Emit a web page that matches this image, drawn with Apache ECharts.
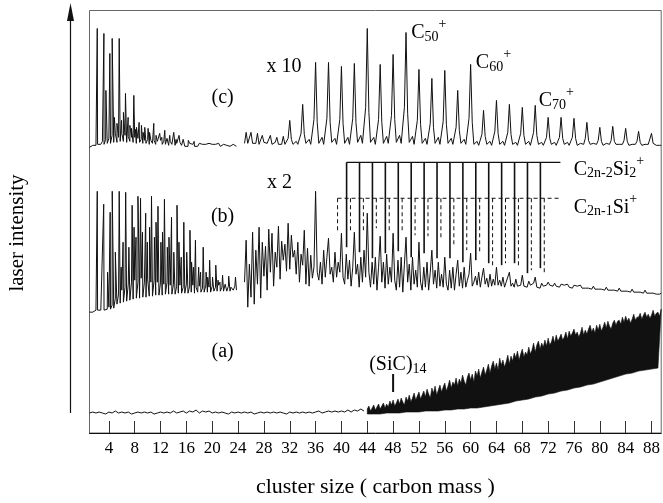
<!DOCTYPE html>
<html>
<head>
<meta charset="utf-8">
<script src="https://cdn.jsdelivr.net/npm/echarts@6/dist/echarts.min.js"></script>
<style>
  html, body { margin: 0; padding: 0; background: #fff; }
  #chart { width: 663px; height: 503px; }
</style>
</head>
<body>
<div id="chart"></div>
<script>
const FONT = '"Liberation Serif", "Times New Roman", serif';
const INK = "#111";

const tickLabels = [4, 8, 12, 16, 20, 24, 28, 32, 36, 40, 44, 48, 52, 56, 60, 64, 68, 72, 76, 80, 84, 88];

// offsets of the three stacked spectra on the (hidden) intensity axis
const baseA = 20, baseB = 121, baseC = 286;

// (c) low mass: noise floor every 0.25 from x=1, plus sharp peaks [x, height]
const cNoise = [
  0, 1, 2, 3,  2, 3, 5, 3,  6, 3, 8, 4,  9, 4, 12, 5,  14, 5, 10, 6,
  14, 6, 12, 5,  11, 6, 10, 5,  10, 4, 9, 5,  8, 4, 7, 4,  8, 3, 7, 4,
  7, 3, 6, 4,  7, 3, 6, 3,  5, 2, 6, 3,  5, 2, 4, 2,  5, 2, 4, 1,
  3, 1, 4, 2,  3, 1, 3, 1,  4, 2, 3, 1,  3, 1, 4, 2,  3, 1, 3, 2,
  4, 1, 2, 3,  1, 2, 4, 1,  2, 3, 1, 1
];
const cPeaks = [
  [2.2, 119], [3.23, 114], [3.54, 57], [4.15, 94], [4.51, 109], [4.85, 30], [5.25, 24],
  [5.6, 109], [5.96, 27], [6.25, 35], [6.57, 54], [6.98, 30], [7.25, 22], [7.5, 19],
  [7.86, 52], [8.1, 18], [8.27, 20], [8.68, 25], [9.04, 22], [9.3, 15], [9.56, 20],
  [10.07, 19], [10.3, 15], [10.48, 16], [10.95, 24], [11.3, 12], [11.87, 14], [12.2, 10],
  [12.65, 17], [13.0, 9], [13.42, 12], [14.04, 15], [14.4, 8], [14.86, 12], [15.5, 8],
  [16.3, 7], [17.2, 6], [18.1, 6], [19.0, 5]
];
// (c) x10 part, every 0.25 from x=25
const cHigh = [
  4, 15, 4, 3,  15, 4, 3, 4,  14, 3, 2, 12,  5, 3, 4, 4,  12, 3, 2, 5,
  10, 3, 4, 3,  11, 3, 4, 9,  27, 8, 3, 2,  6, 3, 4, 14,  43, 13, 4, 2,
  8, 3, 5, 28,  85, 25, 4, 2,  10, 3, 5, 29,  85, 25, 5, 3,  9, 3, 5, 28,
  81, 24, 4, 3,  10, 3, 5, 29,  84, 25, 5, 3,  12, 4, 5, 40,  119, 35, 5, 3,
  10, 3, 5, 28,  83, 25, 4, 3,  11, 4, 5, 32,  93, 28, 5, 3,  12, 4, 5, 40,
  115, 34, 5, 3,  11, 3, 5, 27,  78, 23, 4, 2,  9, 3, 5, 24,  69, 20, 4, 3,
  10, 3, 5, 26,  77, 23, 4, 2,  9, 3, 5, 20,  57, 17, 4, 3,  8, 3, 5, 29,
  83, 25, 3, 2,  6, 2, 4, 13,  37, 11, 3, 2,  6, 2, 4, 16,  47, 14, 3, 2,
  6, 2, 4, 15,  43, 13, 3, 2,  5, 2, 4, 14,  40, 12, 3, 2,  6, 2, 4, 15,
  42, 12, 3, 2,  5, 2, 4, 10,  30, 9, 3, 2,  5, 2, 4, 10,  30, 9, 3, 2,
  5, 2, 4, 10,  29, 9, 2, 2,  4, 2, 3, 9,  25, 7, 3, 2,  4, 2, 3, 7,
  20, 6, 2, 2,  4, 2, 3, 7,  21, 6, 3, 2,  3, 1, 3, 7,  19, 6, 2, 2,
  3, 2, 3, 6,  16, 5, 2, 2,  3, 1, 3, 5,  14, 4, 2, 2,  3, 2, 2
];

// (b) low mass: floor every 0.25 from x=1, plus peaks
const bNoise = [
  0, 1, 0, 1,  2, 2, 3, 2,  3, 2, 4, 3,  5, 3, 7, 4,  14, 8, 18, 9,
  22, 10, 25, 11,  28, 12, 30, 13,  32, 14, 30, 14,  34, 15, 30, 15,  33, 16, 30, 16,
  32, 17, 30, 17,  30, 17, 28, 18,  30, 18, 27, 18,  28, 18, 26, 19,  27, 19, 25, 19,
  28, 19, 26, 20,  27, 19, 25, 20,  26, 20, 24, 20,  27, 20, 25, 20,  26, 21, 25, 21,
  27, 21, 25, 21,  28, 21, 26, 21,  27, 22, 26, 22
];
const bPeaks = [
  [2.2, 121], [3.2, 108], [3.8, 40], [4.2, 100], [4.52, 121], [5.0, 60], [5.6, 121], [5.9, 45],
  [6.2, 70], [6.6, 120], [7.1, 65], [7.6, 107], [7.9, 85], [8.2, 75], [8.5, 116], [8.9, 114],
  [9.2, 80], [9.7, 99], [9.95, 70], [10.3, 85], [10.6, 116], [11.05, 75], [11.3, 90], [11.6, 106],
  [12.05, 70], [12.3, 80], [12.6, 113], [13.05, 65], [13.3, 75], [13.7, 95], [14.05, 60], [14.55, 107],
  [14.85, 70], [15.2, 55], [15.6, 90], [16.05, 60], [16.55, 82], [16.8, 50], [17.1, 45], [17.4, 72],
  [17.9, 45], [18.2, 40], [18.6, 65], [19.05, 40], [19.3, 35], [19.6, 52], [20.05, 35], [20.55, 47],
  [20.9, 32], [21.2, 30], [21.6, 37], [22.05, 28], [22.55, 36], [22.9, 25], [23.2, 27], [23.6, 35]
];
// (b) x2 part, every 0.25 from x=25
const bHigh = [
  30, 72, 5, 48,  15, 80, 8, 62,  28, 85, 14, 70,  36, 66, 22, 83,  40, 79, 26, 60,
  45, 86, 33, 71,  52, 68, 41, 89,  43, 77, 55, 62,  38, 70, 30, 58,  47, 82, 28, 64,
  26, 57, 34, 45,  121, 40, 32, 50,  28, 62, 35, 55,  74, 38, 45, 30,  60, 35, 50, 40,
  79, 35, 28, 58,  33, 52, 26, 45,  80, 38, 48, 25,  55, 30, 62, 35,  99, 40, 25, 50,
  28, 55, 22, 45,  76, 30, 50, 24,  58, 28, 45, 30,  79, 32, 22, 52,  25, 55, 20, 48,
  75, 30, 48, 22,  55, 28, 42, 25,  70, 30, 22, 45,  25, 50, 22, 40,  62, 28, 42, 24,
  50, 26, 38, 25,  55, 28, 22, 42,  24, 45, 22, 38,  52, 26, 40, 24,  45, 25, 32, 38,
  59, 26, 30, 36,  27, 40, 25, 35,  44, 28, 34, 25,  38, 26, 33, 27,  45, 27, 32, 26,
  35, 25, 30, 28,  40, 26, 29, 25,  33, 26, 28, 27,  37, 26, 28, 25,  31, 27, 26, 29,
  35, 25, 27, 24,  29, 26, 25, 27,  30, 27, 28, 26,  29, 26, 27, 25,  28, 26, 27, 25,
  28, 25, 27, 24,  27, 25, 26, 24,  27, 24, 26, 24,  26, 24, 25, 23,  26, 23, 25, 23,
  25, 23, 24, 22,  25, 22, 24, 22,  24, 22, 23, 21,  24, 21, 23, 21,  23, 21, 22, 20,
  23, 20, 22, 20,  22, 20, 21, 19,  22, 19, 21, 19,  21, 19, 20, 18,  20, 18, 19
];

// (a) floor every 0.5 from x=1, then the dense band from x=44
const aNoise = [
  0, 1, 0, 1, 0, -1, 1, 0, 2, 0,  1, 0, 1, -1, 0, 1, 0, 1, 0, 1,
  -1, 0, 1, 0, 1, 0, 2, 0, 1, 2,  0, 2, 1, 3, 0, 2, 1, 2, 0, 1,
  0, 1, 0, -1, 1, 0, 1, 0, 1, 0,  1, -1, 0, 1, 0, 1, 0, 1, 0, 1,
  0, -1, 1, 0, 1, 0, 1, 0, 1, 0,  1, 2, 0, 1, 2, 1, 2, 1, 2, 1,
  3, 1, 3, 2, 4, 2
];
const aBandStart = 44;
// upper edge every 0.25
const aTop = [
  4, 7, 2, 5,  8, 3, 6, 9,  4, 7, 10, 5,  9, 6, 12, 8,  13, 7, 10, 14,
  9, 15, 11, 8,  16, 12, 18, 11,  15, 20, 13, 17,  21, 14, 18, 22,  16, 24, 19, 15,
  25, 20, 27, 18,  23, 28, 21, 26,  30, 22, 27, 33,  25, 31, 28, 35,  27, 34, 30, 38,
  32, 28, 36, 40,  33, 39, 31, 42,  37, 44, 35, 41,  46, 38, 43, 49,  40, 47, 52, 44,
  50, 43, 55, 48,  53, 46, 51, 58,  49, 57, 52, 60,  55, 62, 53, 59,  64, 56, 61, 58,
  66, 59, 63, 70,  61, 68, 72, 64,  70, 66, 73, 67,  75, 68, 71, 77,  70, 78, 72, 75,
  79, 73, 76, 81,  74, 82, 77, 80,  84, 78, 81, 76,  80, 86, 78, 83,  79, 84, 88, 81,
  85, 80, 88, 83,  89, 82, 86, 91,  85, 92, 87, 84,  90, 93, 88, 92,  93, 89, 96, 91,
  97, 92, 95, 90,  94, 99, 93, 96,  96, 100, 94, 98,  101, 96, 99, 95,  98, 103, 97, 100,
  101, 97, 104
];
// lower edge every 1
const aBottom = [
  -1, -1, -1, 0, 0, 0, 1, 1, 1, 2,  2, 2, 3, 3, 4, 4, 5, 5, 6, 7,
  8, 9, 10, 12, 13, 14, 16, 17, 19, 20,  22, 23, 25, 26, 28, 29, 31, 33, 35, 37,
  39, 40, 42, 43, 44, 45
];

// cluster combs over (b): positions and where each tick stops (relative to baseB)
const si2Pos = [40.8, 42.8, 44.8, 46.8, 48.8, 50.8, 52.8, 54.8, 56.8, 58.8, 60.8, 62.8, 64.8, 66.8, 68.8, 70.8];
const si2End = [65, 60, 54, 59, 61, 55, 59, 54, 54, 50, 52, 49, 47, 49, 39, 44];
const si1Pos = [39.4, 41.4, 43.4, 45.4, 47.4, 49.4, 51.4, 53.4, 55.4, 57.4, 59.4, 61.4, 63.4, 65.4, 67.4, 69.4, 71.4];
const si1End = [79, 82, 80, 84, 82, 80, 77, 76, 72, 67, 62, 59, 46, 49, 44, 42, 40];
const si2Top = 150, si1Top = 114, combEnd = 73.9;

const sicMarkX = 48;

function stepped(start, step, vals, base) {
  return vals.map(function (v, i) { return [start + i * step, base + v]; });
}
function withPeaks(start, step, vals, peaks, base) {
  const pts = stepped(start, step, vals, base).concat(peaks.map(function (p) { return [p[0], base + p[1]]; }));
  return pts.sort(function (a, b) { return a[0] - b[0]; });
}
function trace(name, data) {
  return {
    name: name, type: "line", data: data, showSymbol: false, symbol: "none",
    lineStyle: { color: INK, width: 1 }, silent: true, z: 3
  };
}
function comb(pos, end, top, dashed) {
  return {
    type: "custom", silent: true, z: 4,
    data: pos.map(function (x, i) { return [x, baseB + end[i]]; }),
    renderItem: function (params, api) {
      const p1 = api.coord([api.value(0), baseB + top]);
      const p2 = api.coord([api.value(0), api.value(1)]);
      return {
        type: "line",
        shape: { x1: p1[0], y1: p1[1], x2: p2[0], y2: p2[1] },
        style: { stroke: INK, lineWidth: dashed ? 1 : 1.6, lineDash: dashed ? [4, 3] : null }
      };
    }
  };
}

const rich = {
  m: { fontFamily: FONT, fontSize: 20, color: "#000" },
  s: { fontFamily: FONT, fontSize: 14, color: "#000", padding: [9, 0, 0, 0] },
  p: { fontFamily: FONT, fontSize: 14, color: "#000", padding: [0, 0, 16, 0] }
};
const notes = [
  { t: "{m|(c)}", v: [21.6, 336], pos: "inside" },
  { t: "{m|(b)}", v: [21.6, 217], pos: "inside" },
  { t: "{m|(a)}", v: [21.6, 81], pos: "inside" },
  { t: "{m|x 10}", v: [31.1, 367], pos: "inside" },
  { t: "{m|x 2}", v: [30.4, 251], pos: "inside" },
  { t: "{m|C}{s|50}{p|+}", v: [50.8, 401], pos: "right" },
  { t: "{m|C}{s|60}{p|+}", v: [60.8, 371], pos: "right" },
  { t: "{m|C}{s|70}{p|+}", v: [70.55, 333], pos: "right" },
  { t: "{m|C}{s|2n-2}{m|Si}{s|2}{p|+}", v: [75.95, 264], pos: "right" },
  { t: "{m|C}{s|2n-1}{m|Si}{p|+}", v: [75.95, 226], pos: "right" },
  { t: "{m|(SiC)}{s|14}", v: [44.3, 68], pos: "right" }
];

const chart = echarts.init(document.getElementById("chart"));
chart.setOption({
  animation: false,
  grid: { left: 89.5, right: 0, top: 10.5, bottom: 69.5, show: true, borderColor: "#666", borderWidth: 1 },
  xAxis: {
    type: "value", min: 1, max: 89.5,
    name: "cluster size ( carbon mass )", nameLocation: "middle", nameGap: 43,
    nameTextStyle: { fontFamily: FONT, fontSize: 22, color: "#000" },
    axisLine: { show: true, lineStyle: { color: INK, width: 1 } },
    axisTick: { show: true, inside: true, length: 12, customValues: tickLabels, lineStyle: { color: "#333" } },
    axisLabel: { customValues: tickLabels, fontFamily: FONT, fontSize: 17, color: "#000", margin: 7 },
    splitLine: { show: false }
  },
  yAxis: { type: "value", min: 0, max: 423, show: false },
  graphic: [
    { type: "line", shape: { x1: 70.5, y1: 413, x2: 70.5, y2: 16 }, style: { stroke: INK, lineWidth: 1.2 } },
    { type: "polygon", shape: { points: [[70.5, 3], [67, 21], [74, 21]] }, style: { fill: INK } },
    {
      type: "text", x: 17, y: 233, rotation: Math.PI / 2,
      style: { text: "laser intensity", fontFamily: FONT, fontSize: 21, fill: "#000", align: "center", verticalAlign: "middle" }
    }
  ],
  series: [
    trace("c-low", withPeaks(1, 0.25, cNoise, cPeaks, baseC)),
    trace("c-high", stepped(25, 0.25, cHigh, baseC)),
    trace("b-low", withPeaks(1, 0.25, bNoise, bPeaks, baseB)),
    trace("b-high", stepped(25, 0.25, bHigh, baseB)),
    trace("a-low", stepped(1, 0.5, aNoise, baseA)),
    {
      name: "a-band", type: "custom", silent: true, z: 3,
      data: [[aBandStart, baseA]],
      renderItem: function (params, api) {
        const pts = [];
        aTop.forEach(function (v, i) { pts.push(api.coord([aBandStart + i * 0.25, baseA + v])); });
        for (let j = aBottom.length - 1; j >= 0; j--) pts.push(api.coord([aBandStart + j, baseA + aBottom[j]]));
        return { type: "polygon", shape: { points: pts }, style: { fill: INK, stroke: INK, lineWidth: 0.6 } };
      }
    },
    comb(si2Pos, si2End, si2Top, false),
    comb(si1Pos, si1End, si1Top, true),
    {
      type: "line", silent: true, symbol: "none", z: 4,
      data: [[si2Pos[0], baseB + si2Top], [combEnd, baseB + si2Top]],
      lineStyle: { color: INK, width: 1.3 }
    },
    {
      type: "line", silent: true, symbol: "none", z: 4,
      data: [[si1Pos[0], baseB + si1Top], [combEnd, baseB + si1Top]],
      lineStyle: { color: INK, width: 1, type: [4, 3] }
    },
    {
      type: "line", silent: true, symbol: "none", z: 4,
      data: [[sicMarkX, baseA + 21], [sicMarkX, baseA + 39]],
      lineStyle: { color: INK, width: 2 }
    },
    {
      type: "scatter", silent: true, symbolSize: 0, itemStyle: { color: INK, opacity: 1 }, z: 5,
      data: notes.map(function (n) {
        return {
          value: n.v,
          label: {
            show: true, formatter: n.t, position: n.pos, distance: 0, rich: rich,
            color: "#000", textBorderWidth: 0, opacity: 1
          }
        };
      })
    }
  ]
});
</script>
</body>
</html>
